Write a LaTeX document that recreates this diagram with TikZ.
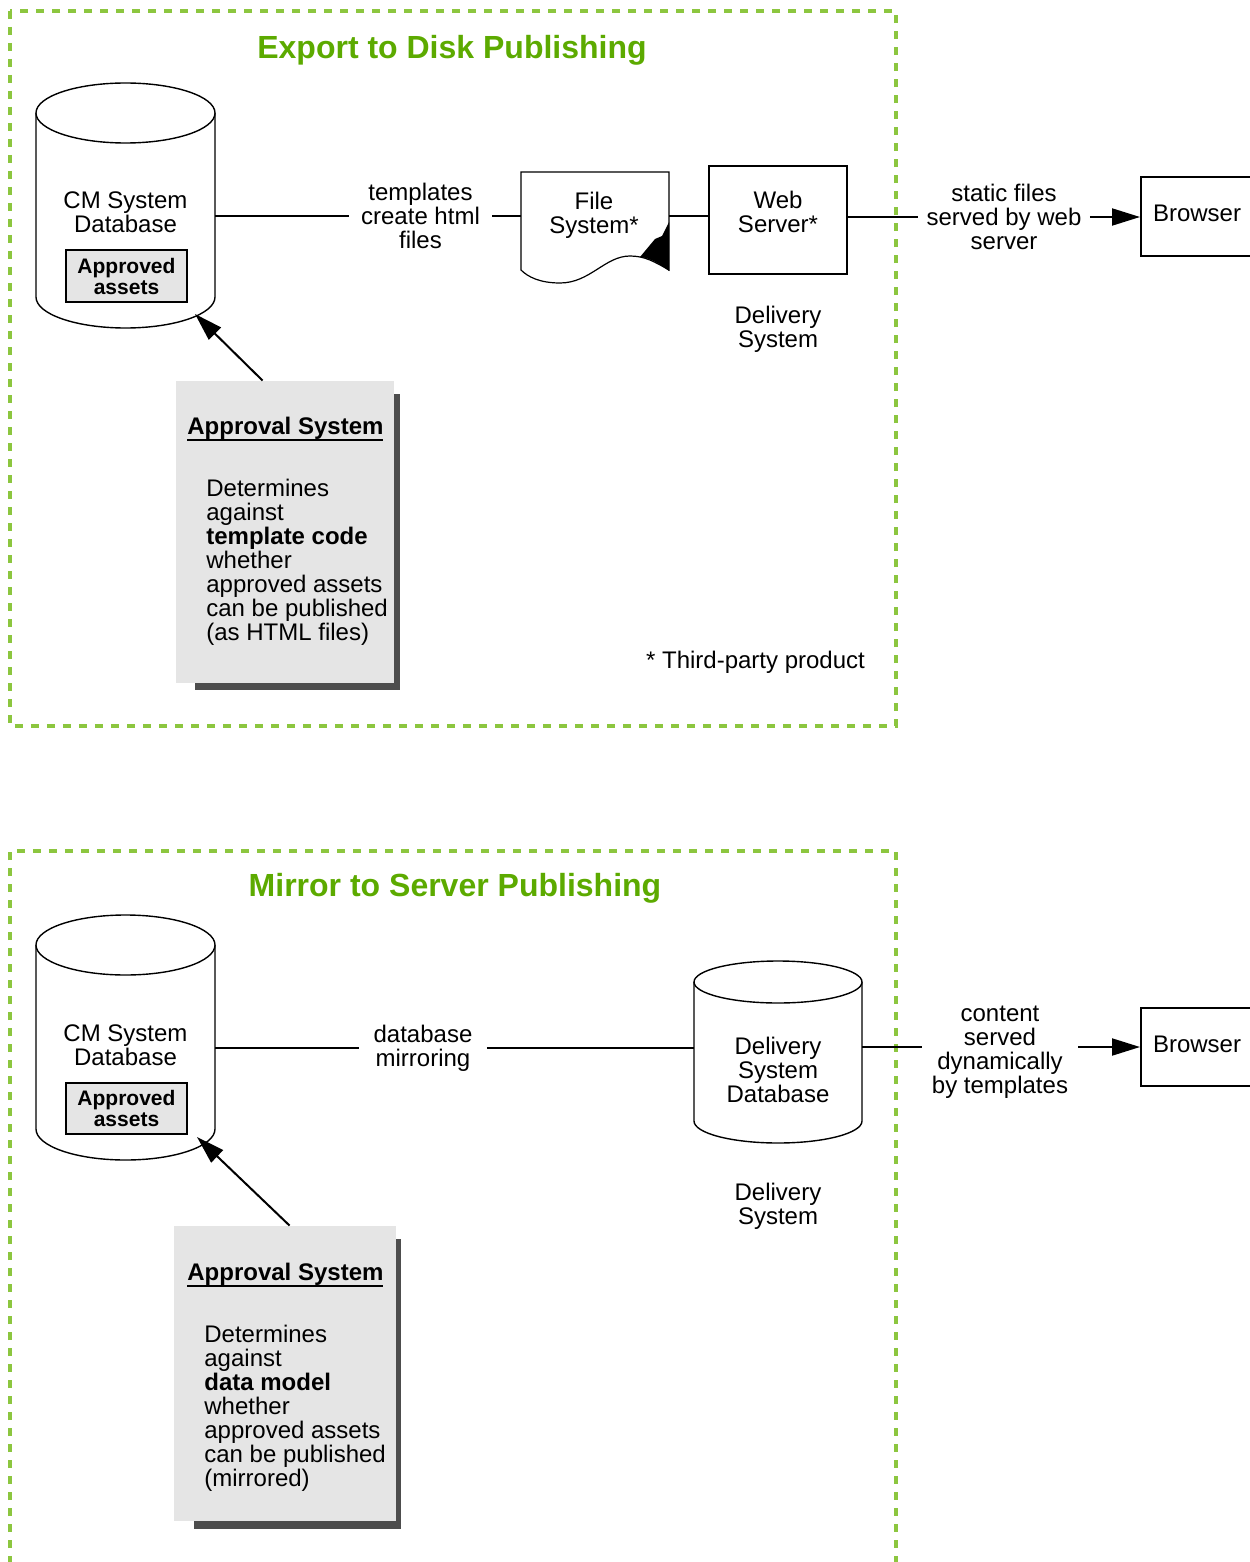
\documentclass[tikz,border=0pt]{standalone}
\usepackage{fontspec}
\setmainfont{Liberation Sans}
\usetikzlibrary{arrows.meta,calc}
\definecolor{framegreen}{RGB}{140,198,63}
\definecolor{titlegreen}{RGB}{92,170,0}
\definecolor{boxgray}{RGB}{229,229,229}
\definecolor{shadowgray}{RGB}{77,77,77}
\newcommand{\myul}[1]{\setbox0\hbox{#1}\vtop{\copy0\hrule height 1pt width \wd0}}
\begin{document}
\begin{tikzpicture}[x=0.5pt,y=-0.5pt,
  txt/.style={font=\fontsize{12}{12}\selectfont, align=center, inner sep=0pt},
  frame/.style={draw=framegreen, line width=2pt, dash pattern=on 4pt off 4pt},
  title/.style={font=\fontsize{16}{16}\selectfont\bfseries, text=titlegreen, inner sep=0pt},
  conn/.style={line width=1pt},
  arr/.style={conn, -{Triangle[length=14pt,width=8.5pt]}},
  cylline/.style={line width=0.7pt, fill=white},
  boxline/.style={draw, line width=1pt, inner sep=0pt},
  hit/.style={inner sep=0pt},
  approved/.style={boxline, fill=boxgray, minimum width=60.5pt, minimum height=25.5pt, font=\fontsize{10.5}{10.5}\selectfont\bfseries, align=center},
  apprbox/.style={fill=boxgray, inner sep=0pt},
  apprhead/.style={anchor=base west, inner sep=0pt, font=\fontsize{12}{12}\selectfont\bfseries},
  apprbody/.style={anchor=north west, inner sep=0pt, align=left, font=\fontsize{12}{12}\selectfont}
]
\useasboundingbox (0,0) rectangle (1249,1562);

% ================= Export to Disk Publishing =================
\draw[frame] (10,11) rectangle (896,726);
\node[title] (t1) at (452,50) {Export to Disk Publishing};

% CM System Database (cylinder)
\draw[cylline] (36,113) -- (36,297) arc[start angle=180,end angle=360,x radius=44.75pt,y radius=15.5pt] -- (215,113);
\draw[cylline] (125.5,113) ellipse [x radius=44.75pt, y radius=15pt];
\node[hit, minimum width=89.5pt, minimum height=123pt] (dbA) at (125.5,206) {};
\node[txt] (dbAt) at (125.5,212) {CM System\\Database};
\node[approved] (apA) at (126.5,276) {Approved\\assets};
\coordinate (dbAin) at (195,314);

% templates label
\node[txt, inner xsep=6pt] (lblA) at (420.5,216) {templates\\create html\\files};
\draw[conn] (dbA.east |- lblA) -- (lblA.west);

% File System (document shape)
\node[hit, minimum width=74pt, minimum height=55.5pt] (fsA) at (595,227.5) {};
\draw[line width=0.6pt, fill=white] (521,172) -- (669,172) -- (669,270)
  .. controls (655,262) and (645,256) .. (630,256)
  .. controls (605,256) and (590,283) .. (560,283)
  .. controls (540,283) and (528,277) .. (521,270) -- cycle;
\fill (640,257) -- (655,239) -- (662,236) -- (669,222) -- (669,271)
  .. controls (660,264) and (650,258) .. (640,257) -- cycle;
\node[txt] (fsAt) at (594,215) {File\\System*};
\draw[conn] (lblA.east) -- (lblA.east -| fsA.west);

% Web Server
\node[boxline, minimum width=69pt, minimum height=54pt] (wsA) at (778,220) {};
\node[txt] (wsAt) at (778,212) {Web\\Server*};
\draw[conn] (fsA.east |- lblA) -- (wsA.west |- lblA);
\node[txt] (dsA) at (778,329) {Delivery\\System};

% static files label + Browser
\node[txt, inner xsep=4pt] (lblB) at (1004,217) {static files\\served by web\\server};
\draw[conn] (wsA.east |- lblB) -- (lblB.west);
\node[boxline, minimum width=60pt, minimum height=39.5pt] (brA) at (1201,216.5) {};
\node[txt] (brAt) at (1197,213) {Browser};
\draw[arr] (lblB.east) -- (lblB.east -| brA.west);

% Approval System A
\fill[shadowgray] (195,394) rectangle (400,690);
\node[apprbox, minimum width=109pt, minimum height=151pt] (apprA) at (285,532) {};
\node[apprhead] (apprAh) at (187,434) {\myul{Approval System}};
\node[apprbody] (apprAb) at (206,479) {Determines\\against\\\textbf{template code}\\whether\\approved assets\\can be published\\(as HTML files)};
\draw[arr] ([xshift=43.5pt]apprA.north west) -- (dbAin);

\node[txt] (note) at (755.5,662) {* Third-party product};

% ================= Mirror to Server Publishing =================
\draw[frame] (10,1580) -- (10,851) -- (896,851) -- (896,1580);
\node[title] (t2) at (455,888) {Mirror to Server Publishing};

% CM System Database (cylinder)
\draw[cylline] (36,945) -- (36,1129) arc[start angle=180,end angle=360,x radius=44.75pt,y radius=15.5pt] -- (215,945);
\draw[cylline] (125.5,945) ellipse [x radius=44.75pt, y radius=15pt];
\node[hit, minimum width=89.5pt, minimum height=123pt] (dbB) at (125.5,1038) {};
\node[txt] (dbBt) at (125.5,1045) {CM System\\Database};
\node[approved] (apB) at (126.5,1108) {Approved\\assets};
\coordinate (dbBin) at (197,1137);

% database mirroring
\node[txt, inner xsep=7pt] (lblC) at (423,1048) {database\\mirroring};
\draw[conn] (dbB.east |- lblC) -- (lblC.west);

% Delivery System Database (cylinder)
\draw[cylline] (694,982) -- (694,1121) arc[start angle=180,end angle=360,x radius=42pt,y radius=11pt] -- (862,982);
\draw[cylline] (778,982) ellipse [x radius=42pt, y radius=10.5pt];
\node[hit, minimum width=84pt, minimum height=91.5pt] (ddb) at (778,1051.5) {};
\node[txt] (ddbt) at (778,1070) {Delivery\\System\\Database};
\draw[conn] (lblC.east) -- (lblC.east -| ddb.west);
\node[txt] (dsB) at (778,1206) {Delivery\\System};

% content served label + Browser
\node[txt, inner xsep=5pt] (lblD) at (1000,1052) {content\\served\\dynamically\\by templates};
\node[boxline, minimum width=60pt, minimum height=39pt] (brB) at (1201,1047) {};
\node[txt] (brBt) at (1197,1044) {Browser};
\draw[conn] (ddb.east |- brB) -- (lblD.west |- brB);
\draw[arr] (lblD.east |- brB) -- (brB.west);

% Approval System B
\fill[shadowgray] (194,1239) rectangle (401,1529);
\node[apprbox, minimum width=111pt, minimum height=147.5pt] (apprB) at (285,1373.5) {};
\node[apprhead] (apprBh) at (187,1280) {\myul{Approval System}};
\node[apprbody] (apprBb) at (204,1325) {Determines\\against\\\textbf{data model}\\whether\\approved assets\\can be published\\(mirrored)};
\draw[arr] ([xshift=58pt]apprB.north west) -- (dbBin);
\end{tikzpicture}
\end{document}
